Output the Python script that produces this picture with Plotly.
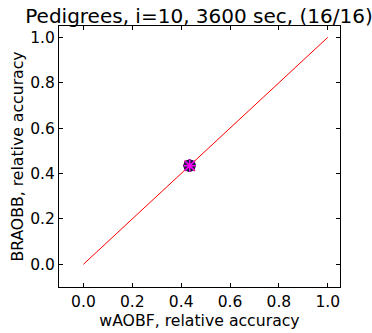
import plotly.graph_objects as go

title = "Pedigrees, i=10, 3600 sec, (16/16)"
x_label = "wAOBF, relative accuracy"
y_label = "BRAOBB, relative accuracy"
diag = [0.0, 1.0]
waobf = [0.433, 0.434, 0.435, 0.433, 0.436, 0.434, 0.435, 0.433,
         0.434, 0.436, 0.435, 0.434, 0.433, 0.435, 0.434, 0.435]
braobb = [0.435, 0.434, 0.436, 0.433, 0.435, 0.434, 0.436, 0.435,
          0.433, 0.434, 0.435, 0.436, 0.434, 0.433, 0.435, 0.434]
tick_vals = [0.0, 0.2, 0.4, 0.6, 0.8, 1.0]
tick_text = ["0.0", "0.2", "0.4", "0.6", "0.8", "1.0"]

colors = ["#3030c0", "#e020a0", "#202040", "#ff00ff"]
symbols = ["circle", "x-thin", "circle", "asterisk"]

fig = go.Figure()
fig.add_trace(go.Scatter(x=diag, y=diag, mode="lines",
                         line=dict(color="red", width=1), showlegend=False))
for i in range(len(waobf)):
    c = colors[i % 4]
    s = symbols[i % 4]
    fig.add_trace(go.Scatter(
        x=[waobf[i]], y=[braobb[i]], mode="markers", showlegend=False,
        marker=dict(size=10, color=c, symbol=s,
                    line=dict(color=c if "thin" in s or s == "asterisk" else "#202040", width=1.5))))

axis_common = dict(
    range=[-0.1, 1.05], tickvals=tick_vals, ticktext=tick_text,
    ticks="inside", ticklen=4, tickcolor="black", showline=True,
    linecolor="black", linewidth=1, mirror="allticks", showgrid=False,
    zeroline=False, tickfont=dict(size=15.5, color="black"), automargin=False,
)
fig.update_xaxes(**axis_common, title=dict(text=x_label, font=dict(size=15.7, color="black"), standoff=0))
fig.update_yaxes(**axis_common, title=dict(text=y_label, font=dict(size=15.7, color="black"), standoff=2))
fig.update_layout(
    width=372, height=333,
    margin=dict(l=59, r=32, t=26, b=46),
    paper_bgcolor="white", plot_bgcolor="white",
    font=dict(family="DejaVu Sans", color="black"),
    title=dict(text=title, x=0.535, xanchor="center", y=0.952, yanchor="middle",
               font=dict(size=20, color="black")),
)
fig.write_html("out.html")
